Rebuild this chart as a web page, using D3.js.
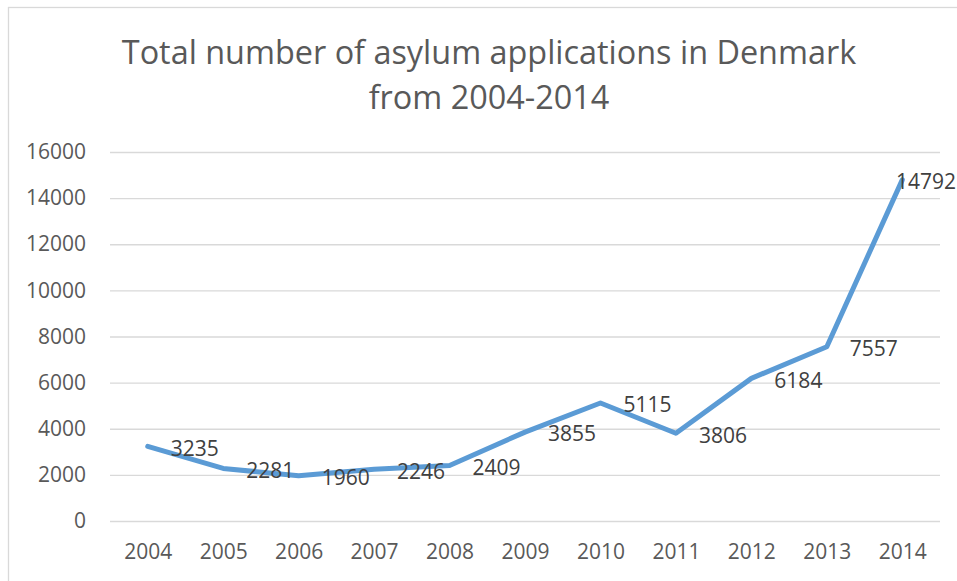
<!DOCTYPE html>
<html>
<head>
<meta charset="utf-8">
<script src="https://cdn.jsdelivr.net/npm/d3@7"></script>
<style>
  html, body { margin: 0; padding: 0; background: #ffffff; }
  svg { display: block; }
</style>
</head>
<body>
<svg id="chart" width="957" height="581"></svg>
<script>
const years = ["2004","2005","2006","2007","2008","2009","2010","2011","2012","2013","2014"];
const applications = [3235, 2281, 1960, 2246, 2409, 3855, 5115, 3806, 6184, 7557, 14792];
const yTicks = [0, 2000, 4000, 6000, 8000, 10000, 12000, 14000, 16000];
const titleLines = ["Total number of asylum applications in Denmark", "from 2004-2014"];

const FONT = "'Open Sans', 'Liberation Sans', sans-serif";
const svg = d3.select("#chart");

// chart border
svg.append("rect")
  .attr("x", 8.5).attr("y", 7.5)
  .attr("width", 953).attr("height", 600)
  .attr("fill", "#ffffff")
  .attr("stroke", "#d9d9d9").attr("stroke-width", 1.3);

const plot = { left: 110, right: 940, top: 152, bottom: 521 };
const chartRight = 956;

const x = d3.scalePoint().domain(years).range([plot.left, plot.right]).padding(0.5);
const y = d3.scaleLinear().domain([0, 16000]).range([plot.bottom, plot.top]);

// title
svg.append("g").selectAll("text")
  .data(titleLines)
  .join("text")
  .attr("x", 489)
  .attr("y", (d, i) => 64 + i * 45)
  .attr("text-anchor", "middle")
  .attr("font-family", FONT)
  .attr("font-size", 32.4)
  .attr("fill", "#595959")
  .text(d => d);

// gridlines + y axis labels
const yAxis = svg.append("g")
  .attr("transform", `translate(${plot.left},0)`)
  .call(d3.axisLeft(y).tickValues(yTicks).tickSize(-(plot.right - plot.left)).tickPadding(24).tickFormat(d3.format("d")));
yAxis.select(".domain").remove();
yAxis.selectAll(".tick line").attr("stroke", "#d9d9d9").attr("stroke-width", 1.3);
yAxis.selectAll(".tick text")
  .attr("font-family", FONT).attr("font-size", 21).attr("fill", "#595959");

// x axis labels
const xAxis = svg.append("g")
  .attr("transform", `translate(0,${plot.bottom})`)
  .call(d3.axisBottom(x).tickSize(0).tickPadding(23));
xAxis.select(".domain").remove();
xAxis.selectAll(".tick text")
  .attr("font-family", FONT).attr("font-size", 21).attr("fill", "#595959");

const data = years.map((yr, i) => ({ year: yr, value: applications[i] }));

// line
svg.append("path")
  .datum(data)
  .attr("fill", "none")
  .attr("stroke", "#5b9bd5")
  .attr("stroke-width", 5)
  .attr("stroke-linejoin", "round")
  .attr("stroke-linecap", "round")
  .attr("d", d3.line().x(d => x(d.year)).y(d => y(d.value)));

// data labels (right of point, pushed back inside chart edge)
svg.append("g").selectAll("text")
  .data(data)
  .join("text")
  .attr("font-family", FONT)
  .attr("font-size", 21)
  .attr("fill", "#404040")
  .attr("y", d => y(d.value) + 2)
  .attr("dy", "0.35em")
  .text(d => d.value)
  .each(function(d) {
    const w = this.getComputedTextLength();
    const px = x(d.year) + 23;
    d3.select(this).attr("x", Math.min(px, chartRight - w));
  });
</script>
</body>
</html>
